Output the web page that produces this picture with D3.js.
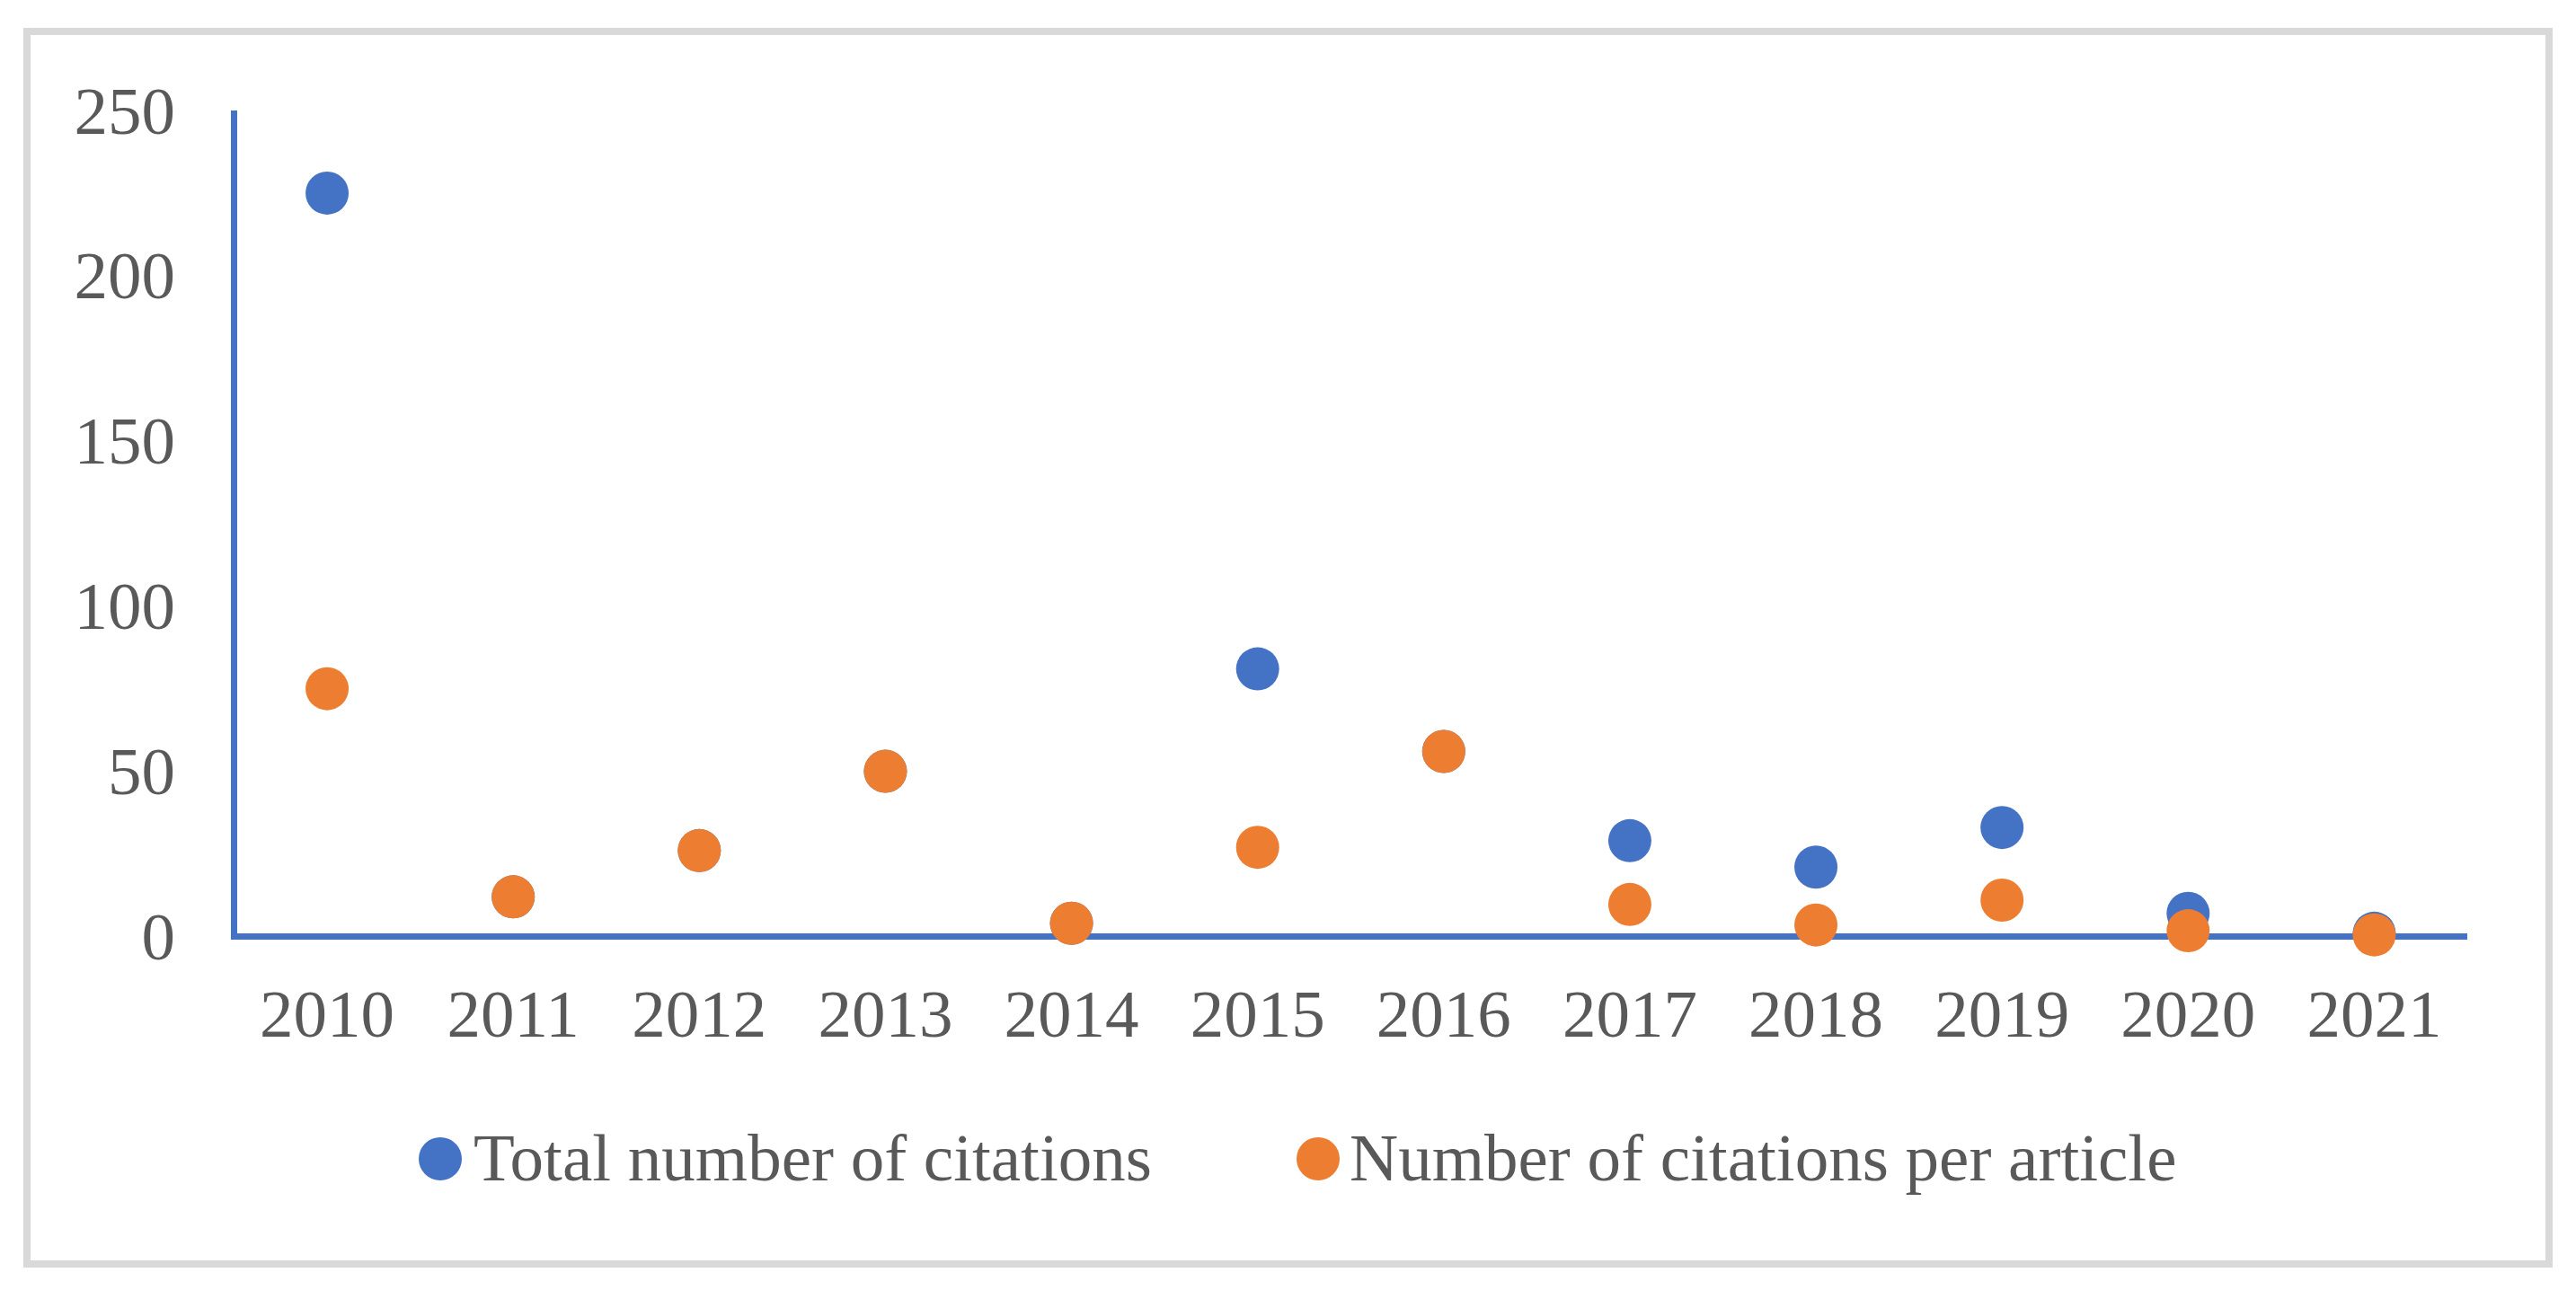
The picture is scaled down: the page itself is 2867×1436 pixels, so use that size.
<!DOCTYPE html>
<html>
<head>
<meta charset="utf-8">
<script src="https://cdn.jsdelivr.net/npm/d3@7"></script>
<style>
  html, body { margin: 0; padding: 0; background: #ffffff; }
  svg { display: block; }
</style>
</head>
<body>
<svg id="chart" width="2867" height="1436"></svg>
<script>
const years = ["2010","2011","2012","2013","2014","2015","2016","2017","2018","2019","2020","2021"];
const totalCitations = [225, 12, 26, 50, 4, 81, 56, 29, 21, 33, 7, 1];
const citationsPerArticle = [75, 12, 26, 50, 4, 27, 56, 9.7, 3.5, 11, 1.75, 0.5];
const yTicks = [0, 50, 100, 150, 200, 250];
const seriesNames = ["Total number of citations", "Number of citations per article"];
const seriesColors = ["#4472C4", "#ED7D31"];

const svg = d3.select("#chart");
const W = 2867, H = 1436;
const textColor = "#595959";
const fontFamily = "'Liberation Serif', 'Times New Roman', serif";
const fontSize = 75;

svg.append("rect").attr("x", 0).attr("y", 0).attr("width", W).attr("height", H).attr("fill", "#ffffff");
// outer border
svg.append("rect")
  .attr("x", 30).attr("y", 35).attr("width", 2807).attr("height", 1372)
  .attr("fill", "none").attr("stroke", "#D9D9D9").attr("stroke-width", 8);

const plotLeft = 260.5, plotRight = 2746, plotTop = 123, plotBottom = 1042.5;

const x = d3.scaleBand().domain(years).range([plotLeft, plotRight]).padding(0);
const y = d3.scaleLinear().domain([0, 250]).range([plotBottom, plotTop]);

// y axis labels
const yAxis = d3.axisLeft(y).tickValues(yTicks).tickSize(0).tickPadding(0);
const gy = svg.append("g").attr("transform", `translate(195,0)`).call(yAxis);
gy.select(".domain").remove();
gy.selectAll("text")
  .attr("font-family", fontFamily).attr("font-size", fontSize)
  .attr("fill", textColor).attr("text-anchor", "end")
  .attr("dy", null).attr("y", 25).attr("x", 0);

// x axis labels
const xAxis = d3.axisBottom(x).tickSize(0).tickPadding(0);
const gx = svg.append("g").attr("transform", `translate(0,0)`).call(xAxis);
gx.select(".domain").remove();
gx.selectAll(".tick line").remove();
gx.selectAll("text")
  .attr("font-family", fontFamily).attr("font-size", fontSize)
  .attr("fill", textColor).attr("text-anchor", "middle")
  .attr("dy", null).attr("y", 1154);

// axis lines
svg.append("line")
  .attr("x1", plotLeft).attr("x2", plotLeft).attr("y1", plotTop).attr("y2", plotBottom + 3.5)
  .attr("stroke", "#4472C4").attr("stroke-width", 7);
svg.append("line")
  .attr("x1", plotLeft - 3.5).attr("x2", plotRight).attr("y1", plotBottom).attr("y2", plotBottom)
  .attr("stroke", "#4472C4").attr("stroke-width", 7);

const cx = d => x(d) + x.bandwidth() / 2;
const r = 24;

const series = [totalCitations, citationsPerArticle];
series.forEach((vals, si) => {
  svg.append("g").selectAll("circle")
    .data(years.map((yr, i) => ({ yr, v: vals[i] })))
    .join("circle")
    .attr("cx", d => cx(d.yr))
    .attr("cy", d => y(d.v))
    .attr("r", r)
    .attr("fill", seriesColors[si]);
});

// legend
const legendItems = [
  { name: seriesNames[0], color: seriesColors[0], dotX: 490, textX: 527 },
  { name: seriesNames[1], color: seriesColors[1], dotX: 1467, textX: 1502 }
];
const lg = svg.append("g");
legendItems.forEach(it => {
  lg.append("circle").attr("cx", it.dotX).attr("cy", 1290).attr("r", r).attr("fill", it.color);
  lg.append("text").attr("x", it.textX).attr("y", 1314)
    .attr("font-family", fontFamily).attr("font-size", fontSize)
    .attr("fill", textColor).text(it.name);
});
</script>
</body>
</html>
